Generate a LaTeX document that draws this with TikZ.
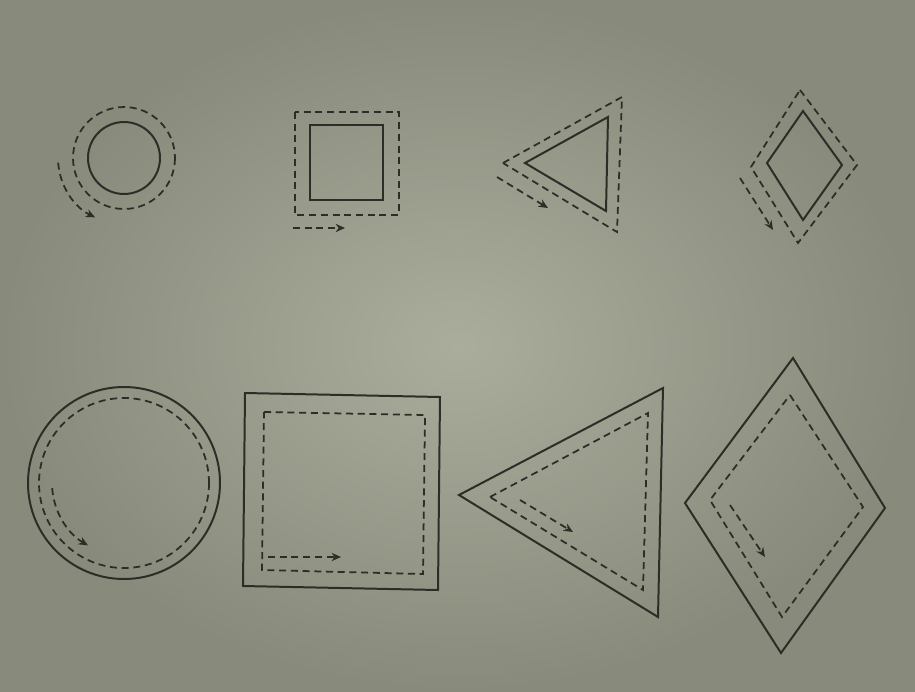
\documentclass[tikz,border=0pt]{standalone}
\usepackage{tikz}
\usetikzlibrary{arrows.meta}
\definecolor{ink}{RGB}{45,45,40}
\definecolor{paperlight}{RGB}{170,172,156}
\definecolor{paperdark}{RGB}{136,138,123}

\begin{document}
\begin{tikzpicture}[x=0.03cm, y=-0.03cm, >=Stealth]
    % Styles
    \tikzset{
        outline/.style={draw=ink, line width=1.7pt, line join=miter},
        guide/.style={draw=ink, line width=1.5pt, dash pattern=on 6pt off 4pt},
        guidearrow/.style={guide, -{Stealth[length=8pt, width=7pt]}}
    }

    % Paper
    \shade [inner color=paperlight, outer color=paperdark] (0,0) rectangle (915,691);
    \useasboundingbox (0,0) rectangle (915,691);

    % Top row: small shapes, dashed line outside
    \draw [outline] (124,158) circle [radius=36];
    \draw [guide] (124,158) circle [radius=51];
    \draw [guidearrow] (124,158) ++(176:66) arc [start angle=176, end angle=116, radius=66];

    \draw [outline] (310,125) rectangle (383,200);
    \draw [guide] (295,112) rectangle (399,215);
    \draw [guidearrow] (293,228) -- (345,228);

    \draw [outline] (525,163) -- (608,117) -- (606,211) -- cycle;
    \draw [guide] (503,163) -- (622,97) -- (617,232) -- cycle;
    \draw [guidearrow] (497,177) -- (548,208);

    \draw [outline] (803,111) -- (842,165) -- (803,220) -- (767,163) -- cycle;
    \draw [guide] (800,90) -- (857,165) -- (798,243) -- (751,167) -- cycle;
    \draw [guidearrow] (740,178) -- (773,230);

    % Bottom row: large shapes, dashed line inside
    \draw [outline] (124,483) circle [radius=96];
    \draw [guide] (124,483) circle [radius=85];
    \draw [guidearrow] (124,483) ++(176:72) arc [start angle=176, end angle=120, radius=72];

    \draw [outline] (245,393) -- (440,397) -- (438,590) -- (243,586) -- cycle;
    \draw [guide] (264,412) -- (425,415) -- (423,574) -- (262,570) -- cycle;
    \draw [guidearrow] (268,557) -- (341,557);

    \draw [outline] (459,495) -- (663,388) -- (658,617) -- cycle;
    \draw [guide] (490,497) -- (648,413) -- (643,590) -- cycle;
    \draw [guidearrow] (520,500) -- (573,532);

    \draw [outline] (793,358) -- (885,508) -- (781,653) -- (685,503) -- cycle;
    \draw [guide] (790,395) -- (863,507) -- (782,617) -- (710,500) -- cycle;
    \draw [guidearrow] (730,505) -- (765,557);
\end{tikzpicture}
\end{document}
